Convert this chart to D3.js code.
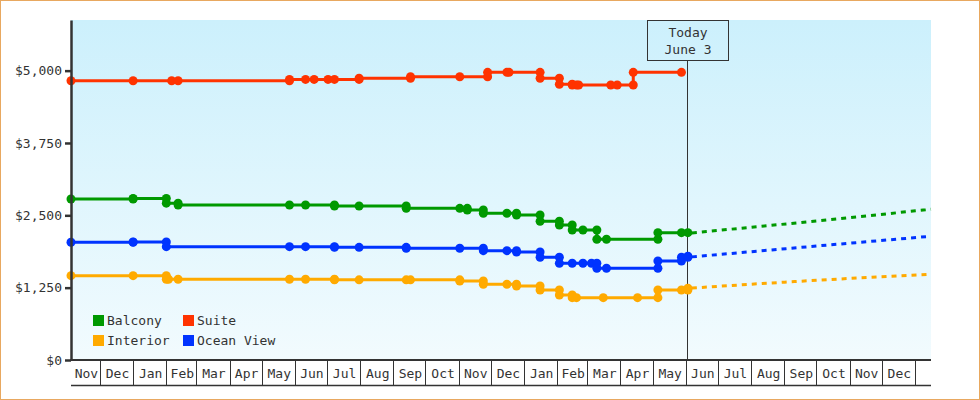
<!DOCTYPE html>
<html>
<head>
<meta charset="utf-8">
<script src="https://cdn.jsdelivr.net/npm/d3@7"></script>
<style>
  body { margin: 0; background: #fff; }
  text { font-family: "DejaVu Sans Mono", monospace; font-size: 13px; fill: #333; }
</style>
</head>
<body>
<div id="chart"></div>
<script>
// price history, one array per cabin type: [date, price]
const balcony = [
  ["2008-11-04", 2782], ["2009-01-01", 2790], ["2009-02-01", 2710], ["2009-02-12", 2678],
  ["2009-05-27", 2678], ["2009-06-11", 2678], ["2009-07-08", 2661], ["2009-07-31", 2661],
  ["2009-09-13", 2621], ["2009-11-02", 2621], ["2009-11-09", 2592], ["2009-11-24", 2535],
  ["2009-12-16", 2535], ["2009-12-25", 2506], ["2010-01-16", 2397], ["2010-02-03", 2333],
  ["2010-02-15", 2246], ["2010-02-25", 2246], ["2010-03-10", 2086], ["2010-03-19", 2086],
  ["2010-05-06", 2200], ["2010-05-28", 2200], ["2010-06-03", 2200]
];
const suite = [
  ["2008-11-04", 4825], ["2009-01-01", 4825], ["2009-02-06", 4825], ["2009-02-12", 4825],
  ["2009-05-27", 4849], ["2009-06-11", 4849], ["2009-06-19", 4849], ["2009-07-02", 4849],
  ["2009-07-08", 4849], ["2009-07-31", 4868], ["2009-09-17", 4895], ["2009-11-02", 4895],
  ["2009-11-28", 4971], ["2009-12-16", 4971], ["2009-12-18", 4971], ["2010-01-16", 4868],
  ["2010-02-03", 4764], ["2010-02-15", 4752], ["2010-02-19", 4752], ["2010-02-21", 4752],
  ["2010-03-23", 4752], ["2010-03-29", 4752], ["2010-04-13", 4971], ["2010-05-28", 4971]
];
const interior = [
  ["2008-11-04", 1457], ["2009-01-01", 1457], ["2009-02-01", 1395], ["2009-02-03", 1395],
  ["2009-02-12", 1395], ["2009-05-27", 1395], ["2009-06-11", 1395], ["2009-07-08", 1385],
  ["2009-07-31", 1385], ["2009-09-13", 1385], ["2009-09-17", 1385], ["2009-11-02", 1365],
  ["2009-11-24", 1308], ["2009-12-16", 1308], ["2009-12-25", 1279], ["2010-01-16", 1210],
  ["2010-02-03", 1123], ["2010-02-15", 1077], ["2010-02-19", 1077], ["2010-03-16", 1077],
  ["2010-04-17", 1077], ["2010-05-06", 1210], ["2010-05-28", 1210], ["2010-06-03", 1239]
];
const oceanView = [
  ["2008-11-04", 2034], ["2009-01-01", 2040], ["2009-02-01", 1958], ["2009-05-27", 1958],
  ["2009-06-11", 1958], ["2009-07-08", 1947], ["2009-07-31", 1947], ["2009-09-13", 1930],
  ["2009-11-02", 1930], ["2009-11-24", 1889], ["2009-12-16", 1889], ["2009-12-25", 1866],
  ["2010-01-16", 1775], ["2010-02-03", 1671], ["2010-02-15", 1671], ["2010-02-25", 1671],
  ["2010-03-05", 1671], ["2010-03-10", 1585], ["2010-03-19", 1585], ["2010-05-06", 1711],
  ["2010-05-28", 1775], ["2010-06-03", 1792]
];

// projected prices after today
const balconyForecast = [["2010-06-03", 2190], ["2010-09-24", 2390], ["2011-01-16", 2605]];
const oceanViewForecast = [["2010-06-03", 1776], ["2010-09-24", 1958], ["2011-01-16", 2138]];
const interiorForecast = [["2010-06-03", 1239], ["2010-09-24", 1370], ["2011-01-16", 1481]];

const yTicks = [0, 1250, 2500, 3750, 5000];
const today = "2010-06-03";
const todayLabel = ["Today", "June 3"];
const dateRange = ["2008-11-04", "2011-01-16"];

const series = [
  {name: "Balcony", color: "#009900", data: balcony, forecast: balconyForecast},
  {name: "Suite", color: "#ff3300", data: suite, forecast: null},
  {name: "Interior", color: "#ffaa00", data: interior, forecast: interiorForecast},
  {name: "Ocean View", color: "#0033ff", data: oceanView, forecast: oceanViewForecast}
];

const W = 980, H = 400;
const margin = {top: 20, right: 49, bottom: 40, left: 71};
const parse = d3.utcParse("%Y-%m-%d");

const svg = d3.select("#chart").append("svg")
    .attr("width", W)
    .attr("height", H);

const defs = svg.append("defs");
const grad = defs.append("linearGradient")
    .attr("id", "bg")
    .attr("x1", 0).attr("y1", 0).attr("x2", 0).attr("y2", 1);
grad.append("stop").attr("offset", "0%").attr("stop-color", "#ccf0fc");
grad.append("stop").attr("offset", "100%").attr("stop-color", "#f2fbfe");

const x = d3.scaleUtc()
    .domain(dateRange.map(parse))
    .range([margin.left, W - margin.right]);

const y = d3.scaleLinear()
    .domain([0, 5875])
    .range([H - margin.bottom, margin.top]);

// plot background
svg.append("rect")
    .attr("x", x.range()[0])
    .attr("y", y.range()[1])
    .attr("width", x.range()[1] - x.range()[0])
    .attr("height", y.range()[0] - y.range()[1])
    .attr("fill", "url(#bg)");

// today marker
const tx = Math.round(x(parse(today))) - 0.5;
svg.append("line")
    .attr("x1", tx).attr("x2", tx)
    .attr("y1", 61).attr("y2", y(0))
    .attr("stroke", "#333")
    .attr("stroke-width", 1);
svg.append("rect")
    .attr("x", tx - 40).attr("y", 20.5)
    .attr("width", 81).attr("height", 40)
    .attr("fill", "none")
    .attr("stroke", "#333");
svg.append("text")
    .attr("x", tx + 0.5).attr("y", 37)
    .attr("text-anchor", "middle")
    .text(todayLabel[0]);
svg.append("text")
    .attr("x", tx + 0.5).attr("y", 54)
    .attr("text-anchor", "middle")
    .text(todayLabel[1]);

// lines
const line = d3.line()
    .x(d => x(parse(d[0])))
    .y(d => y(d[1]))
    .curve(d3.curveStepAfter);

const fline = d3.line()
    .x(d => x(parse(d[0])))
    .y(d => y(d[1]))
    .curve(d3.curveMonotoneX);

series.forEach(s => {
    if (s.forecast) {
        svg.append("path")
            .datum(s.forecast)
            .attr("d", fline)
            .attr("fill", "none")
            .attr("stroke", s.color)
            .attr("stroke-width", 3)
            .attr("stroke-dasharray", "5,5")
            .attr("stroke-dashoffset", -4);
    }
    svg.append("path")
        .datum(s.data)
        .attr("d", line)
        .attr("fill", "none")
        .attr("stroke", s.color)
        .attr("stroke-width", 3);

    // markers at every price, plus the old level where the price changed
    const pts = [];
    s.data.forEach((d, i) => {
        if (i > 0 && s.data[i - 1][1] !== d[1]) pts.push([d[0], s.data[i - 1][1]]);
        pts.push(d);
    });
    svg.append("g")
        .selectAll("circle")
        .data(pts)
        .enter().append("circle")
        .attr("cx", d => x(parse(d[0])))
        .attr("cy", d => y(d[1]))
        .attr("r", 4.5)
        .attr("fill", s.color);
});

// y axis
const yAxis = svg.append("g")
    .attr("transform", `translate(${margin.left},0)`)
    .call(d3.axisLeft(y).tickValues(yTicks).tickFormat(d3.format("$,.0f")).tickSize(6).tickSizeOuter(0).tickPadding(3));
yAxis.select(".domain").attr("stroke", "#333").attr("stroke-width", 2.5);
yAxis.selectAll(".tick line").attr("stroke", "#333").attr("stroke-width", 2.5);
yAxis.selectAll("text").attr("fill", "#333");
yAxis.attr("font-family", null).attr("font-size", null);

// x axis: month boxes
const x0 = x.range()[0], x1 = x.range()[1];
const yb = y(0);
const axisG = svg.append("g");
axisG.append("line")
    .attr("x1", x0 - 1).attr("x2", x1)
    .attr("y1", yb).attr("y2", yb)
    .attr("stroke", "#333").attr("stroke-width", 2);
axisG.append("line")
    .attr("x1", x0).attr("x2", x1)
    .attr("y1", yb + 25.5).attr("y2", yb + 25.5)
    .attr("stroke", "#333").attr("stroke-width", 1.5);

const [d0, d1] = x.domain();
const monthStarts = d3.utcMonth.range(d3.utcMonth.ceil(d0), d1);
axisG.selectAll(".div")
    .data(monthStarts)
    .enter().append("line")
    .attr("x1", d => Math.round(x(d)) + 0.5)
    .attr("x2", d => Math.round(x(d)) + 0.5)
    .attr("y1", yb).attr("y2", yb + 25)
    .attr("stroke", "#333");

// label every month that ends inside the axis
const months = d3.utcMonth.range(d3.utcMonth.floor(d0), d1)
    .filter(d => d3.utcMonth.offset(d, 1) <= d1);
axisG.selectAll(".lbl")
    .data(months)
    .enter().append("text")
    .attr("x", d => {
        const a = Math.max(x(d), x0);
        const b = x(d3.utcMonth.offset(d, 1));
        return (a + b) / 2 + 1;
    })
    .attr("y", yb + 18)
    .attr("text-anchor", "middle")
    .text(d => d3.utcFormat("%b")(d));

// legend
const legend = svg.append("g")
    .selectAll("g")
    .data(series)
    .enter().append("g")
    .attr("transform", (d, i) => `translate(${93 + (i % 2) * 90},${315 + Math.floor(i / 2) * 20})`);
legend.append("rect")
    .attr("width", 11).attr("height", 11)
    .attr("fill", d => d.color);
legend.append("text")
    .attr("x", 14).attr("y", 10)
    .text(d => d.name);

// outer border
svg.append("rect")
    .attr("x", 0.5).attr("y", 0.5)
    .attr("width", W - 1).attr("height", H - 1)
    .attr("fill", "none")
    .attr("stroke", "#e8a860");
</script>
</body>
</html>
